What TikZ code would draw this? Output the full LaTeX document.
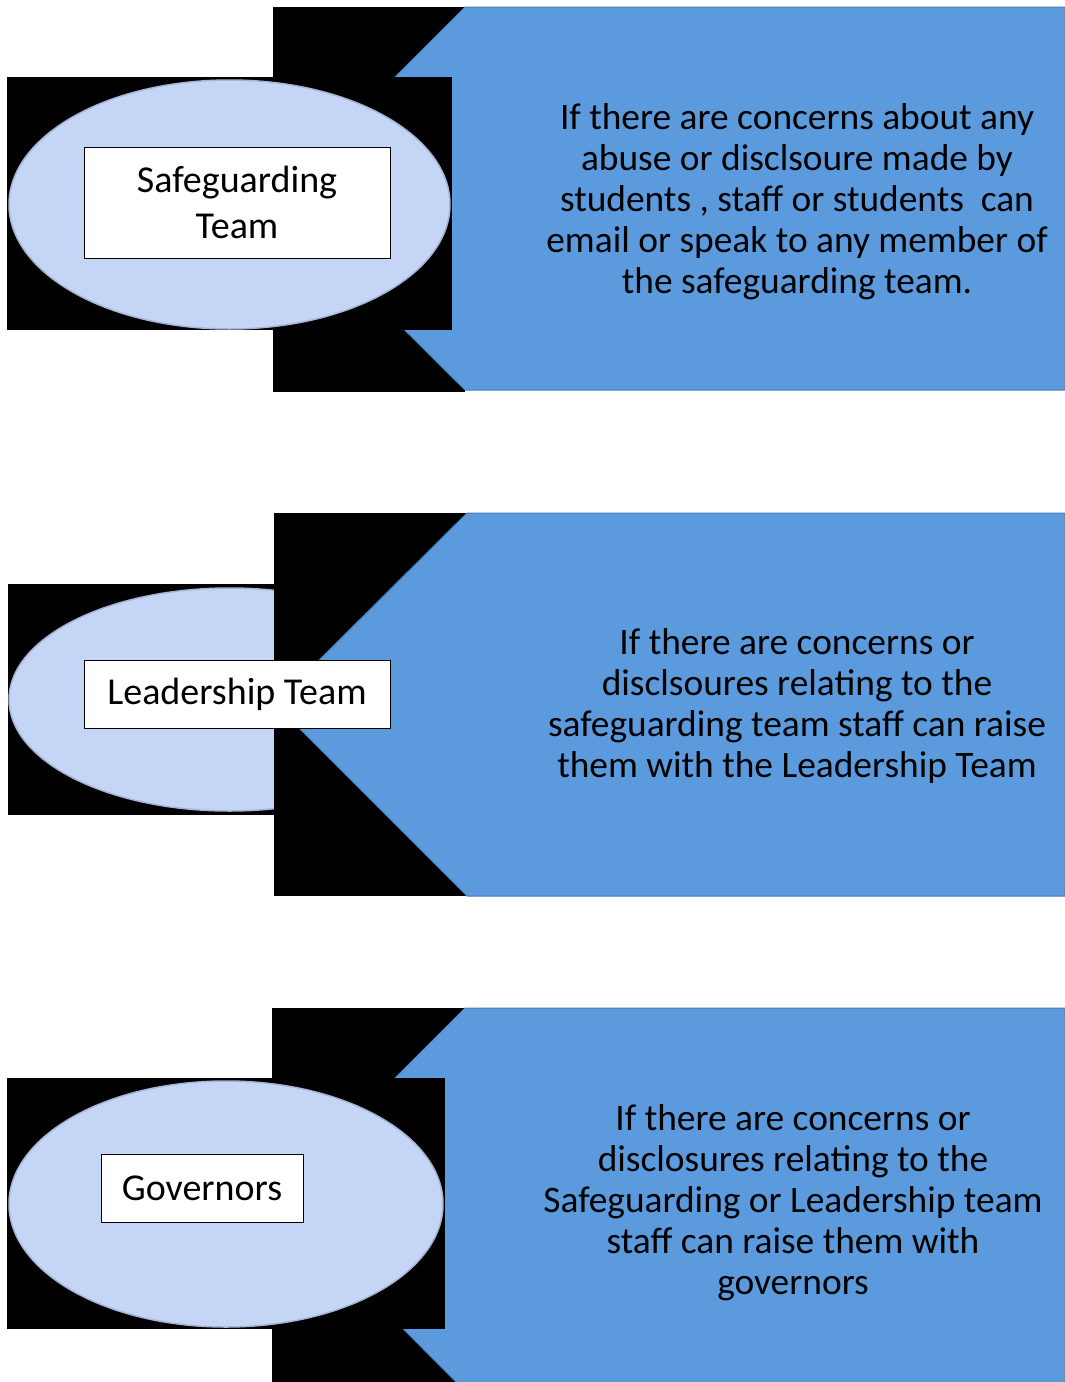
\documentclass[tikz,border=0pt]{standalone}
\usepackage{fontspec}
\setmainfont{Carlito}
\usetikzlibrary{shapes.geometric}
\definecolor{arrowblue}{RGB}{91,155,221}
\definecolor{arrowedge}{RGB}{72,125,185}
\definecolor{ovalblue}{RGB}{197,213,245}
\definecolor{ovaledge}{RGB}{165,180,212}

\tikzset{
  backing/.style={fill=black},
  arrowbody/.style={fill=arrowblue, draw=arrowedge, line width=1pt, line join=miter},
  oval/.style={ellipse, fill=ovalblue, draw=ovaledge, line width=1.5pt, inner sep=0pt},
  namebox/.style={draw=black, fill=white, line width=0.8pt, align=center,
    inner sep=0pt, font=\fontsize{38}{46}\selectfont},
  note/.style={align=center, inner sep=0pt, font=\fontsize{37.4}{41}\selectfont}
}

\begin{document}
\begin{tikzpicture}[x=1pt, y=-1pt]

  \clip (0,0) rectangle (1065,1382);

  % Safeguarding Team
  \fill [backing] (273,7) rectangle (465,392);
  \draw [arrowbody] (273,199) -- (465,7) -- (1065,7) -- (1065,390) -- (465,390) -- cycle;
  \fill [backing] (7,77) rectangle (452,330);
  \node [oval, minimum width=441, minimum height=249] (oval1) at (229.5,204.5) {};
  \node [namebox, minimum width=306, minimum height=111] (team1) at (237,202.5) {\raisebox{-2pt}{Safeguarding}\\\raisebox{-2pt}{Team}};
  \node [note] (note1) at (797,202) {If there are concerns about any\\abuse or disclsoure made by\\students , staff or students~ can\\email or speak to any member of\\the safeguarding team.};

  % Leadership Team
  \fill [backing] (8,584) rectangle (274,815);
  \node [oval, minimum width=441, minimum height=223] (oval2) at (229.5,699.5) {};
  \fill [backing] (274,513) rectangle (467,896);
  \draw [arrowbody] (275,704) -- (467,513) -- (1065,513) -- (1065,896) -- (467,896) -- cycle;
  \node [namebox, minimum width=306, minimum height=68] (team2) at (237,694) {\raisebox{-2pt}{Leadership Team}};
  \node [note] (note2) at (797,706) {If there are concerns or\\disclsoures relating to the\\safeguarding team staff can raise\\them with the Leadership Team};

  % Governors
  \fill [backing] (272,1008) rectangle (465,1382);
  \draw [arrowbody] (274,1199) -- (465,1008) -- (1065,1008) -- (1065,1391) -- (465,1391) -- cycle;
  \fill [backing] (7,1078) rectangle (445,1329);
  \node [oval, minimum width=434, minimum height=246] (oval3) at (226,1204) {};
  \node [namebox, minimum width=202, minimum height=68] (team3) at (202,1188) {\raisebox{-1pt}{Governors}};
  \node [note] (note3) at (793,1202.5) {If there are concerns or\\disclosures relating to the\\Safeguarding or Leadership team\\staff can raise them with\\governors};

\end{tikzpicture}
\end{document}
